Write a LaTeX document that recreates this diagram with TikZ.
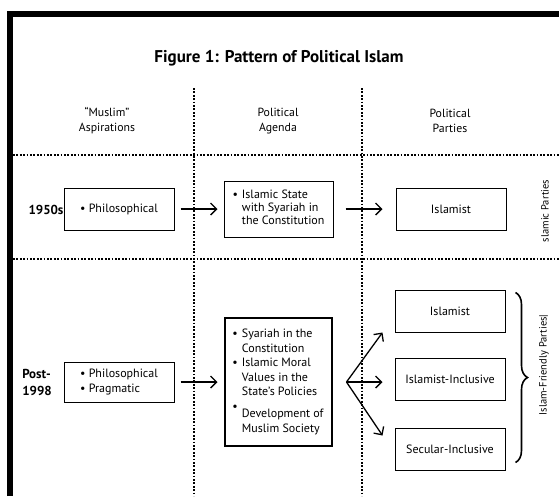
\documentclass[tikz,border=0pt]{standalone}
\usepackage{fontspec}
\setmainfont{PT Sans}
\usetikzlibrary{positioning, arrows.meta, decorations.pathreplacing}
\tikzset{
  cell/.style    = {rectangle, draw=black, line width=1pt, fill=white, align=center,
                    minimum width=110pt, minimum height=42pt, inner sep=3pt,
                    font=\fontsize{12}{13}\selectfont},
  keycell/.style = {cell, line width=2pt, minimum width=107pt, minimum height=128pt,
                    font=\fontsize{12}{14.5}\selectfont},
  lab/.style     = {align=center, font=\fontsize{11.8}{15}\selectfont},
  side/.style    = {rotate=90, font=\fontsize{10.5}{12}\selectfont},
  era/.style     = {align=left, font=\fontsize{13}{17}\selectfont\bfseries},
  flow/.style    = {line width=1.3pt, -{Straight Barb[length=6pt,width=12pt]}},
  grid/.style    = {line width=1.8pt, dash pattern=on 1.8pt off 1.6pt},
  frame/.style   = {line width=6pt},
  brace/.style   = {line width=1.6pt, decorate, decoration={brace, amplitude=12pt}},
}

\begin{document}
\begin{tikzpicture}[x=1pt, y=1pt]
\useasboundingbox (0,0) rectangle (559,-496);

% Outer frame, cut off at the right and bottom
\draw [frame] (10,-496) -- (10,-13.5) -- (559,-13.5);

% Title and column heads
\node (title) [font=\fontsize{17}{19}\selectfont\bfseries] at (279,-58)
  {Figure 1: Pattern of Political Islam};
\node (h1) [lab] at (107,-121) {“Muslim”\\Aspirations};
\node (h2) [lab] at (278,-121) {Political\\Agenda};
\node (h3) [lab] at (450,-121) {Political\\Parties};

% Dotted grid
\draw [grid] (13,-155) -- (559,-155);
\draw [grid] (13,-259) -- (559,-259);
\draw [grid] (194,-88) -- (194,-496);
\draw [grid] (362,-88) -- (362,-496);

% Row 1: 1950s
\node (e1) [era] at (46,-210) {1950s};
\node (a1) [cell] at (119,-209) {\textbullet\ Philosophical};
\node (g1) [cell, minimum width=109pt, minimum height=56pt, right=49pt of a1]
  {\begin{tabular}{@{}l@{\hspace{4pt}}l@{}}\textbullet & Islamic State\\
   & with Syariah in\\ & the Constitution\end{tabular}};
\node (r1) [cell, right=62pt of g1] {Islamist};
\node (s1) [side] at (545,-211) {slamic Parties};

\draw [flow, shorten <=6pt, shorten >=6pt] (a1) -- (g1);
\draw [flow, shorten <=12pt, shorten >=13pt] (g1) -- (r1);

% Row 2: post-1998, one agenda fanning out to three kinds of party
\node (e2) [era] at (37,-382) {Post-\\1998};
\node (a2) [cell, minimum height=40pt, font=\fontsize{12}{14.5}\selectfont] at (119,-382)
  {\begin{tabular}{@{}l@{}}\textbullet\ Philosophical\\\textbullet\ Pragmatic\end{tabular}};
\node (g2) [keycell, right=49pt of a2]
  {\begin{tabular}{@{}l@{\hspace{4pt}}l@{}}\textbullet & Syariah in the\\
   & Constitution\\
   \textbullet & Islamic Moral\\
   & Values in the\\
   & State’s Policies\\
   \textbullet & \\[-7pt]
   & Development of\\
   & Muslim Society\end{tabular}};
\coordinate (fan) at ([xshift=14pt]g2.east);
\node (r2b) [cell, right=62pt of g2, yshift=3pt] {Islamist-Inclusive};
\node (r2a) [cell, above=25pt of r2b] {Islamist};
\node (r2c) [cell, below=27pt of r2b] {Secular-Inclusive};
\node (s2) [side] at (544,-365) {Islam-Friendly Parties|};

\draw [flow, shorten <=6pt, shorten >=6pt] (a2) -- (g2);
\draw [flow] (fan) -- ([xshift=-12pt]r2a.south west);
\draw [flow, shorten >=12pt] (fan) -- (fan -| r2b.west);
\draw [flow] (fan) -- ([xshift=-12pt, yshift=-8pt]r2c.north west);

\draw [brace] ([xshift=10pt, yshift=-3pt]r2a.north east) -- ([xshift=10pt, yshift=8pt]r2c.south east);

\end{tikzpicture}
\end{document}
